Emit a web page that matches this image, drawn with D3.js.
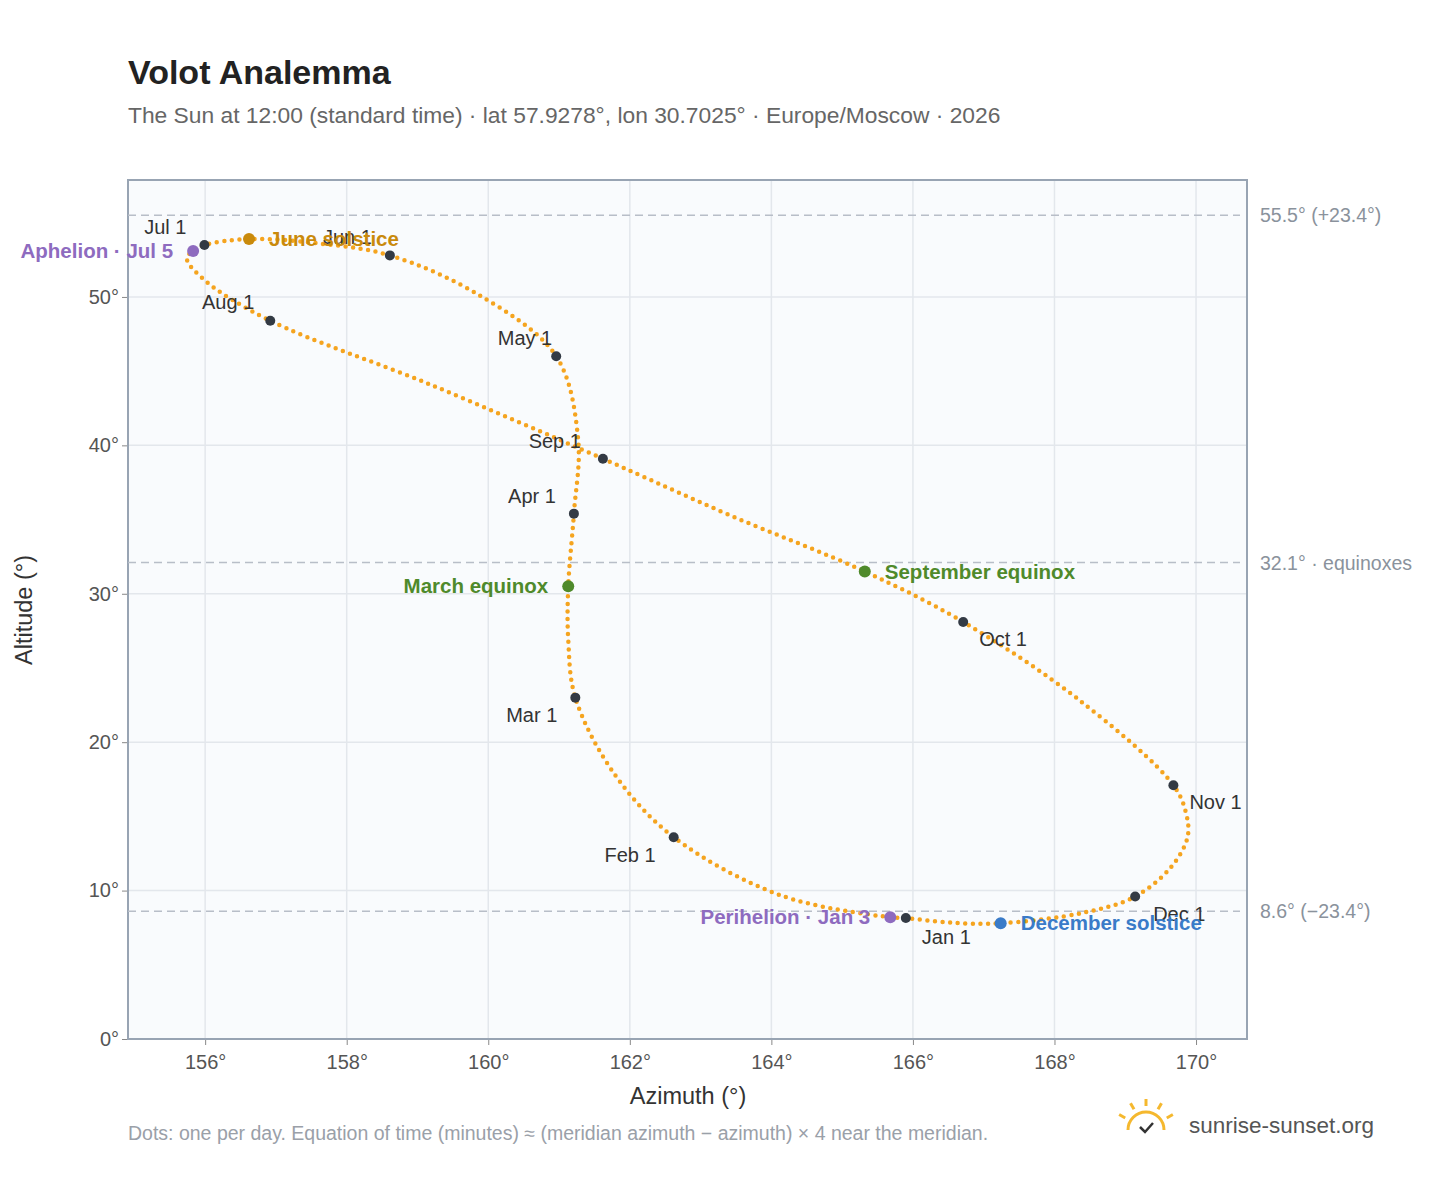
<!DOCTYPE html>
<html><head><meta charset="utf-8">
<script src="https://cdn.jsdelivr.net/npm/d3@7"></script>
<style>body{margin:0;background:#fff;font-family:"Liberation Sans",Arial,sans-serif}</style>
</head><body><svg id="c" width="1448" height="1188"></svg>
<script>
// Path samples (date label, azimuth, altitude)
const pathDates = ["Jan 1","Jan 3","Jan 15","Feb 1","Feb 15","Mar 1","Mar 10","Mar 20","Apr 1","Apr 15","May 1","May 15","Jun 1","Jun 10","Jun 21","Jul 1","Jul 5","Jul 9","Jul 15","Aug 1","Aug 15","Sep 1","Sep 15","Sep 23","Oct 1","Oct 15","Nov 1","Nov 10","Nov 17","Nov 24","Dec 1","Dec 10","Dec 21","Dec 27"];
const pathAz  = [165.90,165.68,164.12,162.62,161.79,161.23,161.13,161.13,161.21,161.27,160.96,159.88,158.61,157.62,156.62,155.99,155.83,155.74,156.00,156.92,159.18,161.62,163.41,165.32,166.71,168.36,169.68,169.86,169.88,169.65,169.14,168.40,167.24,166.50];
const pathAlt = [8.15,8.2,9.7,13.6,17.8,23.0,26.9,30.5,35.4,40.4,46.0,50.1,52.8,53.6,53.9,53.5,53.1,52.6,51.1,48.4,44.1,39.1,35.3,31.5,28.1,22.8,17.1,15.2,13.6,11.6,9.6,8.5,7.8,7.85];
const monthNames = ["Jan 1","Feb 1","Mar 1","Apr 1","May 1","Jun 1","Jul 1","Aug 1","Sep 1","Oct 1","Nov 1","Dec 1"];
const specialNames = ["Perihelion · Jan 3","March equinox","June solstice","Aphelion · Jul 5","September equinox","December solstice"];
const specialDates = ["Jan 3","Mar 20","Jun 21","Jul 5","Sep 23","Dec 21"];
const specialColors = ["#8e6bbf","#4f8a2b","#c98a0c","#8e6bbf","#4f8a2b","#3a7bc8"];
const refAlt = [55.5,32.1,8.6];
const refLabels = ["55.5° (+23.4°)","32.1° · equinoxes","8.6° (−23.4°)"];
const xTicks = [156,158,160,162,164,166,168,170];
const yTicks = [0,10,20,30,40,50];

const pts = pathDates.map((d,i)=>({d,az:pathAz[i],alt:pathAlt[i]}));
const byDate = Object.fromEntries(pts.map(p=>[p.d,p]));
const svg = d3.select("#c");
const L=128,R=1247,T=180,B=1039;
const x = d3.scaleLinear().domain([154.91,170.72]).range([L,R]);
const y = d3.scaleLinear().domain([0,57.88]).range([B,T]);

svg.append("text").attr("x",128).attr("y",84).attr("font-size",34).attr("font-weight","bold").attr("fill","#222").text("Volot Analemma");
svg.append("text").attr("x",128).attr("y",123).attr("font-size",22.8).attr("fill","#666").text("The Sun at 12:00 (standard time) · lat 57.9278°, lon 30.7025° · Europe/Moscow · 2026");

svg.append("rect").attr("x",L).attr("y",T).attr("width",R-L).attr("height",B-T).attr("fill","#f9fbfd");
const g = svg.append("g");
xTicks.forEach(t=>g.append("line").attr("x1",x(t)).attr("x2",x(t)).attr("y1",T).attr("y2",B).attr("stroke","#e3e7ec").attr("stroke-width",1.5));
yTicks.forEach(t=>g.append("line").attr("x1",L).attr("x2",R).attr("y1",y(t)).attr("y2",y(t)).attr("stroke","#e3e7ec").attr("stroke-width",1.5));
svg.append("g").attr("transform",`translate(0,${B})`).call(d3.axisBottom(x).tickValues(xTicks).tickFormat(d=>d+"°").tickSize(6))
  .call(a=>{a.select(".domain").remove();a.selectAll("line").attr("stroke","#888");a.selectAll("text").attr("font-size",20).attr("fill","#555").attr("dy","1.05em");});
svg.append("g").attr("transform",`translate(${L},0)`).call(d3.axisLeft(y).tickValues(yTicks).tickFormat(d=>d+"°").tickSize(6))
  .call(a=>{a.select(".domain").remove();a.selectAll("line").attr("stroke","#888");a.selectAll("text").attr("font-size",20).attr("fill","#555");});
svg.append("rect").attr("x",L).attr("y",T).attr("width",R-L).attr("height",B-T).attr("fill","none").attr("stroke","#98a4b3").attr("stroke-width",2);

refAlt.forEach((a,i)=>{
  svg.append("line").attr("x1",L).attr("x2",1240).attr("y1",y(a)).attr("y2",y(a)).attr("stroke","#b8bec8").attr("stroke-width",1.5).attr("stroke-dasharray","8,5");
  svg.append("text").attr("x",1260).attr("y",y(a)+7).attr("font-size",19.5).attr("fill","#8a929c").text(refLabels[i]);
});
svg.append("text").attr("x",688).attr("y",1104).attr("text-anchor","middle").attr("font-size",23.5).attr("fill","#333").text("Azimuth (°)");
svg.append("text").attr("transform","translate(32,610) rotate(-90)").attr("text-anchor","middle").attr("font-size",23.5).attr("fill","#333").text("Altitude (°)");

const line = d3.line().x(d=>x(d.az)).y(d=>y(d.alt)).curve(d3.curveCatmullRomClosed);
svg.append("path").attr("d",line(pts)).attr("fill","none").attr("stroke","#f5a41f").attr("stroke-width",4.5)
  .attr("stroke-linecap","round").attr("stroke-dasharray","0 7.6");

const mOff = {"Jan 1":[16,26,"start"],"Feb 1":[-18,25,"end"],"Mar 1":[-18,24,"end"],"Apr 1":[-18,-11,"end"],"May 1":[-4,-11,"end"],"Jun 1":[-18,-11,"end"],"Jul 1":[-18,-11,"end"],"Aug 1":[-16,-12,"end"],"Sep 1":[-22,-11,"end"],"Oct 1":[16,24,"start"],"Nov 1":[16,24,"start"],"Dec 1":[18,24,"start"]};
monthNames.forEach(m=>{
  const p=byDate[m];
  svg.append("circle").attr("cx",x(p.az)).attr("cy",y(p.alt)).attr("r",5).attr("fill","#333a44");
  const o=mOff[m];
  svg.append("text").attr("x",x(p.az)+o[0]).attr("y",y(p.alt)+o[1]).attr("text-anchor",o[2]).attr("font-size",20).attr("fill","#333").text(m);
});
const sOff=[[-20,"end"],[-20,"end"],[20,"start"],[-20,"end"],[20,"start"],[20,"start"]];
specialDates.forEach((d,i)=>{
  const p=byDate[d];
  svg.append("circle").attr("cx",x(p.az)).attr("cy",y(p.alt)).attr("r",6).attr("fill",specialColors[i]);
  svg.append("text").attr("x",x(p.az)+sOff[i][0]).attr("y",y(p.alt)+7).attr("text-anchor",sOff[i][1]).attr("font-size",20.5).attr("font-weight","bold").attr("fill",specialColors[i]).text(specialNames[i]);
});

svg.append("text").attr("x",128).attr("y",1140).attr("font-size",19.5).attr("fill","#9aa0a8").text("Dots: one per day. Equation of time (minutes) ≈ (meridian azimuth − azimuth) × 4 near the meridian.");
const lg=svg.append("g").attr("transform","translate(1146,1130)");
lg.append("path").attr("d","M-18,0 A18,18 0 0 1 18,0").attr("fill","none").attr("stroke","#f5b82e").attr("stroke-width",3);
[-150,-120,-90,-60,-30].forEach(a=>{const r=a*Math.PI/180;lg.append("line").attr("x1",24*Math.cos(r)).attr("y1",24*Math.sin(r)).attr("x2",31*Math.cos(r)).attr("y2",31*Math.sin(r)).attr("stroke","#f5b82e").attr("stroke-width",3);});
lg.append("path").attr("d","M-6,-3 L-1,2 L7,-7").attr("fill","none").attr("stroke","#333").attr("stroke-width",2.5);
svg.append("text").attr("x",1189).attr("y",1133).attr("font-size",22.5).attr("fill","#555").text("sunrise-sunset.org");
</script></body></html>
